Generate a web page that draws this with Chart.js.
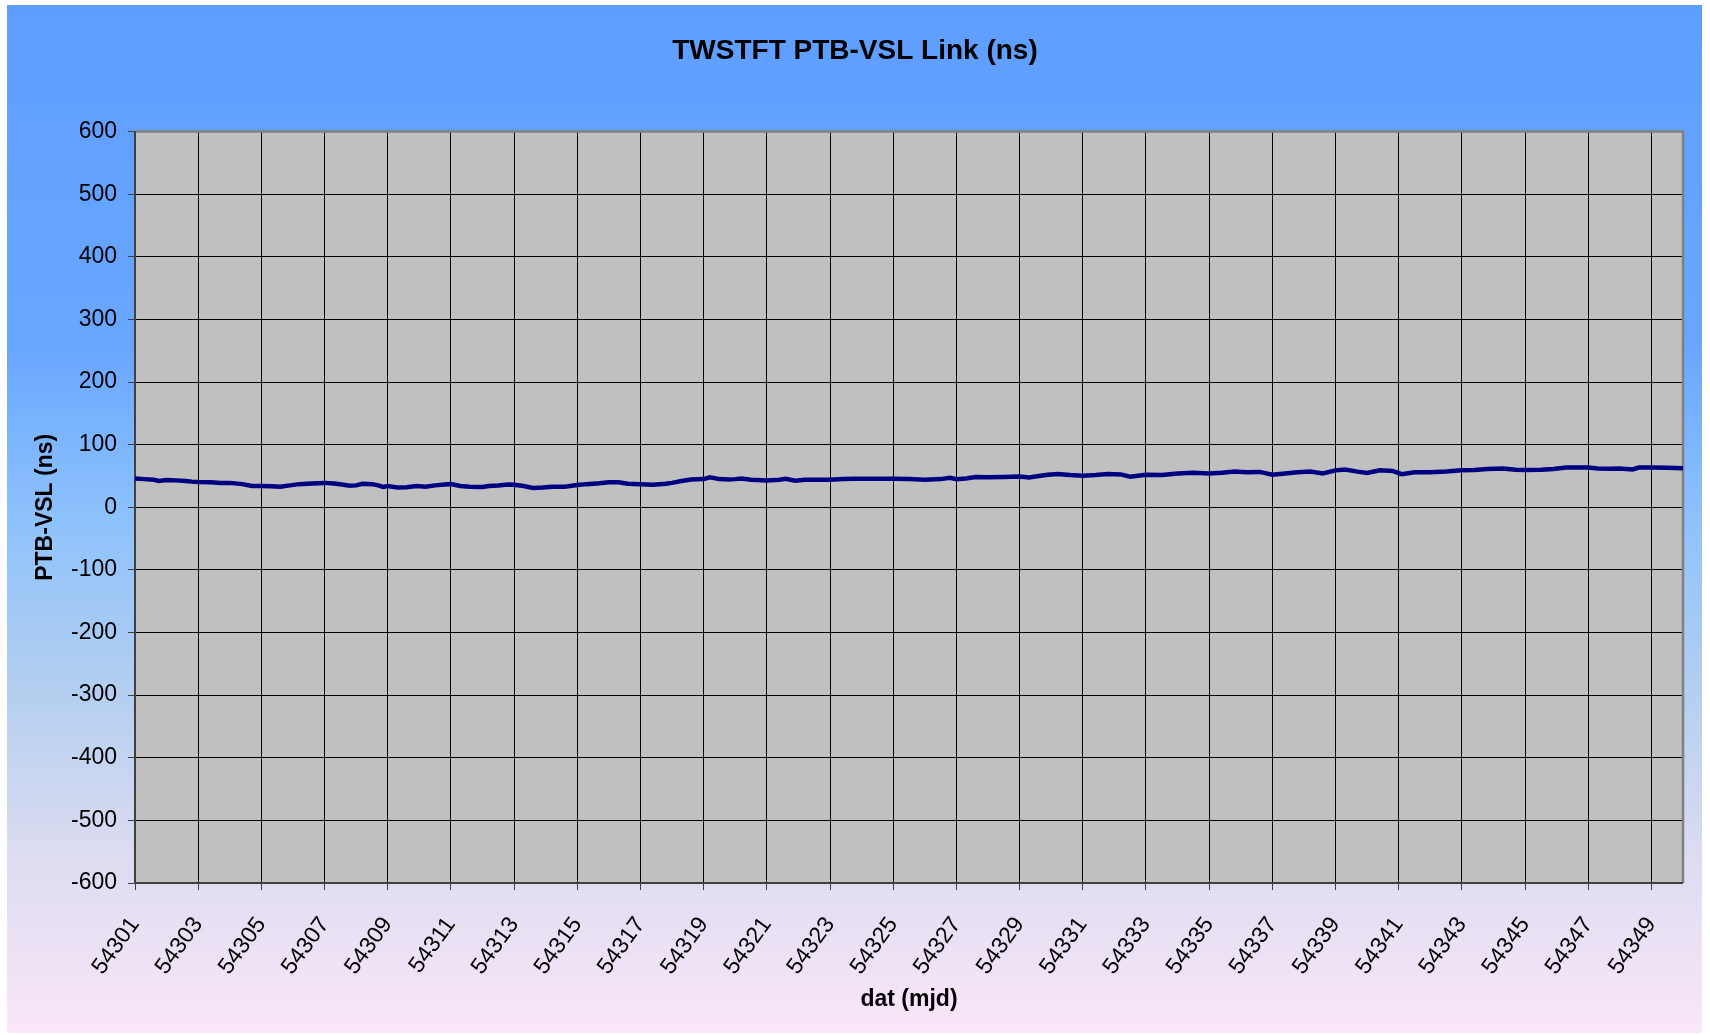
<!DOCTYPE html>
<html>
<head>
<meta charset="utf-8">
<title>TWSTFT PTB-VSL Link (ns)</title>
<script src="https://cdn.jsdelivr.net/npm/chart.js@4.4.1/dist/chart.umd.min.js"></script>
<style>
  html, body { margin: 0; padding: 0; background: #fff; }
  #wrap { width: 1710px; height: 1035px; }
</style>
</head>
<body>
<div id="wrap"><canvas id="linkChart" width="1710" height="1035"></canvas></div>
<script>
// MJD days and PTB-VSL link values (ns)
const mjd = [
  54301.0, 54301.3, 54301.6, 54301.75, 54302.0, 54302.3, 54302.6, 54302.8, 54303.0, 54303.4,
  54303.7, 54304.0, 54304.4, 54304.7, 54305.0, 54305.3, 54305.6, 54305.9, 54306.2, 54306.6,
  54307.0, 54307.3, 54307.6, 54307.8, 54308.0, 54308.2, 54308.5, 54308.7, 54308.85, 54309.0,
  54309.3, 54309.6, 54309.9, 54310.2, 54310.5, 54310.8, 54311.0, 54311.3, 54311.6, 54312.0,
  54312.2, 54312.5, 54312.8, 54313.0, 54313.3, 54313.6, 54313.9, 54314.2, 54314.6, 54315.0,
  54315.3, 54315.7, 54316.0, 54316.3, 54316.6, 54317.0, 54317.4, 54317.8, 54318.0, 54318.3,
  54318.6, 54319.0, 54319.2, 54319.5, 54319.8, 54320.0, 54320.2, 54320.5, 54321.0, 54321.4,
  54321.6, 54321.9, 54322.2, 54322.6, 54323.0, 54323.4, 54323.8, 54324.3, 54325.0, 54325.5,
  54326.0, 54326.5, 54326.8, 54327.0, 54327.3, 54327.6, 54328.0, 54328.5, 54329.0, 54329.3,
  54329.6, 54329.9, 54330.2, 54330.6, 54331.0, 54331.4, 54331.8, 54332.2, 54332.5, 54333.0,
  54333.5, 54334.0, 54334.5, 54335.0, 54335.4, 54335.8, 54336.2, 54336.6, 54337.0, 54337.4,
  54337.8, 54338.2, 54338.6, 54339.0, 54339.3, 54339.7, 54340.0, 54340.4, 54340.8, 54341.1,
  54341.5, 54342.0, 54342.5, 54343.0, 54343.4, 54343.8, 54344.3, 54344.7, 54345.0, 54345.5,
  54345.9, 54346.3, 54346.7, 54347.0, 54347.3, 54347.7, 54348.0, 54348.4, 54348.6, 54349.0,
  54349.5, 54350.0
];
const ptbVsl = [
  46, 45, 44, 42, 43.5, 43, 42, 41, 40.5, 40,
  39, 39, 37, 34, 34, 33.5, 33, 35, 37, 38,
  39, 38, 36, 34.5, 35, 37.5, 37, 35, 32.5, 34,
  31.5, 32, 34, 33, 35, 36.5, 37, 34, 33, 32.5,
  34, 35, 36.5, 36, 34, 31, 31.5, 33, 33, 35.5,
  37, 38.5, 40, 40, 37.5, 37, 36, 37.5, 39, 42,
  44.5, 45, 48, 45, 44.5, 45, 46, 44, 43, 44,
  45.5, 42.5, 44, 44, 44, 45, 45.5, 45.5, 45.5, 45,
  44, 45, 47, 45, 46, 48.5, 48, 48.5, 49, 47.5,
  50, 52, 53, 51.5, 50.5, 51.5, 53, 52.5, 49, 52,
  51.5, 54, 55, 54, 55, 57, 56, 56.5, 52, 54,
  56, 57, 54, 59, 60.5, 57, 55, 59, 58, 53,
  56, 56, 57, 59, 59.5, 61, 62, 60, 59.5, 60,
  61, 63.5, 63.5, 63.5, 62, 61.5, 62, 60.5, 63.5, 63.5,
  63, 62.5
];
const xTicks = [
  54301, 54303, 54305, 54307, 54309, 54311, 54313, 54315, 54317, 54319,
  54321, 54323, 54325, 54327, 54329, 54331, 54333, 54335, 54337, 54339,
  54341, 54343, 54345, 54347, 54349
];
const yTicks = [-600, -500, -400, -300, -200, -100, 0, 100, 200, 300, 400, 500, 600];

const FONT = "'Liberation Sans', Arial, sans-serif";

// panel gradient, grey plot area and the frame round it
const backdrop = {
  id: "backdrop",
  beforeDraw(chart) {
    const ctx = chart.ctx;
    const a = chart.chartArea;
    ctx.save();
    ctx.fillStyle = "#ffffff";
    ctx.fillRect(0, 0, chart.width, chart.height);
    const g = ctx.createLinearGradient(0, 5, 0, 1033);
    g.addColorStop(0, "#5e9eff");
    g.addColorStop(0.33, "#68a6ff");
    g.addColorStop(0.5, "#8ec2fc");
    g.addColorStop(0.66, "#b2cef0");
    g.addColorStop(0.83, "#dddcf1");
    g.addColorStop(1, "#fae6f8");
    ctx.fillStyle = g;
    ctx.fillRect(7, 5, 1695, 1028);
    ctx.fillStyle = "#c0c0c0";
    ctx.fillRect(a.left, a.top, a.right - a.left, a.bottom - a.top);
    ctx.restore();
  },
  beforeDatasetsDraw(chart) {
    const ctx = chart.ctx;
    const a = chart.chartArea;
    ctx.save();
    ctx.strokeStyle = "#808080";
    ctx.lineWidth = 2.5;
    ctx.beginPath();
    ctx.moveTo(a.left, a.top);
    ctx.lineTo(a.right, a.top);
    ctx.lineTo(a.right, a.bottom);
    ctx.stroke();
    ctx.strokeStyle = "#404040";
    ctx.lineWidth = 2;
    ctx.beginPath();
    ctx.moveTo(a.left, a.top);
    ctx.lineTo(a.left, a.bottom);
    ctx.lineTo(a.right, a.bottom);
    ctx.stroke();
    ctx.restore();
  }
};

const ctx = document.getElementById("linkChart").getContext("2d");
new Chart(ctx, {
  type: "line",
  data: {
    datasets: [
      {
        label: "PTB-VSL",
        data: mjd.map((d, i) => ({ x: d, y: ptbVsl[i] })),
        borderColor: "#000080",
        borderWidth: 4.5,
        pointRadius: 0,
        tension: 0,
        fill: false,
      },
    ],
  },
  options: {
    responsive: false,
    animation: false,
    devicePixelRatio: 1,
    layout: { padding: 0 },
    plugins: {
      legend: { display: false },
      tooltip: { enabled: false },
      title: {
        display: true,
        text: "TWSTFT PTB-VSL Link (ns)",
        color: "#000",
        font: { family: FONT, size: 28, weight: "bold", lineHeight: 1.2 },
        padding: { top: 34, bottom: 64 },
      },
    },
    scales: {
      x: {
        type: "linear",
        min: 54301,
        max: 54350,
        afterBuildTicks: (s) => { s.ticks = xTicks.map((v) => ({ value: v })); },
        afterFit: (s) => { s.height = 152; },
        grid: { color: "#000", lineWidth: 1, tickLength: 7, drawTicks: true, tickColor: "#404040" },
        border: { display: false },
        ticks: {
          color: "#000",
          font: { family: FONT, size: 23 },
          minRotation: 54,
          maxRotation: 54,
          autoSkip: false,
          padding: 22,
          callback: (v) => String(v),
        },
        title: {
          display: true,
          text: "dat (mjd)",
          color: "#000",
          font: { family: FONT, size: 23, weight: "bold", lineHeight: 1.2 },
          padding: { top: 0, bottom: 22 },
        },
      },
      y: {
        min: -600,
        max: 600,
        afterBuildTicks: (s) => { s.ticks = yTicks.map((v) => ({ value: v })); },
        afterFit: (s) => { s.width = 135; },
        grid: { color: "#000", lineWidth: 1, tickLength: 7, tickColor: "#404040" },
        border: { display: false },
        ticks: {
          color: "#000",
          font: { family: FONT, size: 23 },
          padding: 11,
        },
        title: {
          display: true,
          text: "PTB-VSL (ns)",
          color: "#000",
          font: { family: FONT, size: 23, weight: "bold", lineHeight: 1.2 },
          padding: { top: 32, bottom: 0 },
        },
      },
      // empty right-hand strip so the plot ends where the reference does
      yRight: {
        position: "right",
        min: -600,
        max: 600,
        afterFit: (s) => { s.width = 27; },
        grid: { display: false, drawTicks: false },
        border: { display: false },
        ticks: { display: false },
      },
    },
  },
  plugins: [backdrop],
});
</script>
</body>
</html>
